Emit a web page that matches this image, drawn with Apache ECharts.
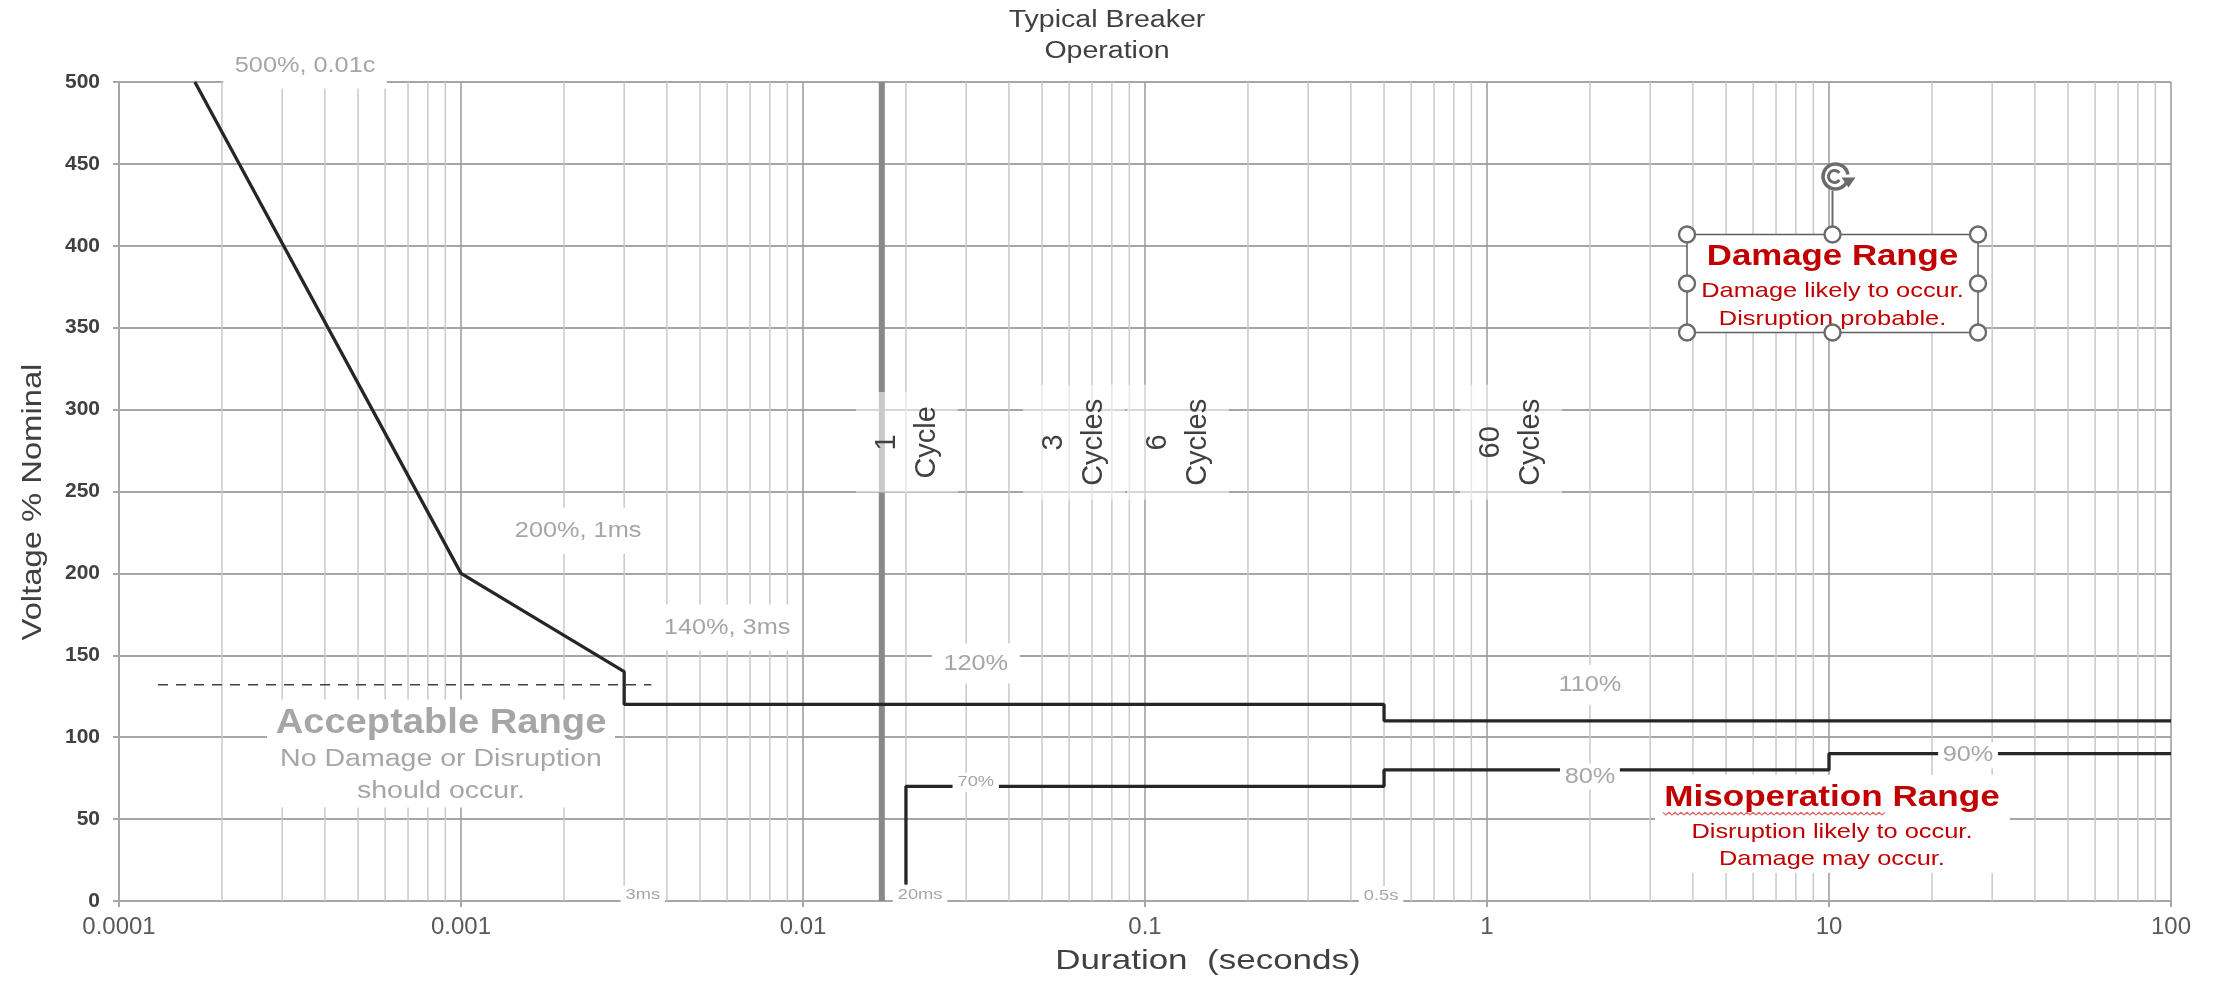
<!DOCTYPE html>
<html>
<head>
<meta charset="utf-8">
<script src="https://cdn.jsdelivr.net/npm/echarts@6/dist/echarts.min.js"></script>
<style>
html,body{margin:0;padding:0;background:#fff;}
#c{width:2219px;height:982px;}
</style>
</head>
<body>
<div id="c"></div>
<script>
// ---------------- data ----------------
const xTickLabels = ['0.0001', '0.001', '0.01', '0.1', '1', '10', '100'];
const yTickLabels = ['0', '50', '100', '150', '200', '250', '300', '350', '400', '450', '500'];

// Overvoltage boundary (duration s, % nominal)
const upperDuration = [1 / 6000, 0.001, 0.003, 0.003, 0.5, 0.5, 100];
const upperVoltage  = [500, 200, 140, 120, 120, 110, 110];

// Undervoltage boundary
const lowerDuration = [0.02, 0.02, 0.5, 0.5, 10, 10, 100];
const lowerVoltage  = [10, 70, 70, 80, 80, 90, 90];

// Dashed reference line
const dashDuration = [0.00013, 0.0036];
const dashVoltage  = [132, 132];

// Typical breaker operation markers
const cycleDuration = [0.017, 0.05, 0.1, 1];
const cycleLabels   = ['1\nCycle', '3\nCycles', '6\nCycles', '60\nCycles'];

// Value annotations
const noteTexts     = ['500%, 0.01c', '200%, 1ms', '140%, 3ms', '120%', '110%', '80%', '90%', '70%', '3ms', '20ms', '0.5s'];
const noteDurations = [0.00035, 0.0022, 0.006, 0.032, 2, 2, 25.5, 0.032, 0.0034, 0.022, 0.49];
const noteVoltages  = [510, 226, 167, 145, 132, 76, 89, 72.5, 3.5, 3.5, 3.3];

// ---------------- chart ----------------
const FONT = "'Liberation Sans', Arial, Helvetica, sans-serif";
const chart = echarts.init(document.getElementById('c'), null, {renderer: 'canvas'});

const zip = (a, b) => a.map((v, i) => [v, b[i]]);

// minor logarithmic grid lines (2..9 per decade)
const minorGrid = [];
for (let k = -4; k <= 1; k++) {
  for (let m = 2; m <= 9; m++) {
    const v = m * Math.pow(10, k);
    minorGrid.push([v, 0], [v, 500], ['-', '-']);
  }
}

const option = {
  animation: false,
  backgroundColor: '#ffffff',
  grid: {left: 119, right: 48, top: 82, bottom: 81, containLabel: false, outerBoundsMode: 'none'},
  xAxis: {
    type: 'log', logBase: 10, min: 0.0001, max: 100, splitNumber: 6,
    axisLine: {show: true, onZero: false, lineStyle: {color: '#a6a6a6', width: 2}},
    axisTick: {show: true, length: 6, lineStyle: {color: '#a6a6a6', width: 2}},
    axisLabel: {
      color: '#595959', fontSize: 24, fontFamily: FONT, margin: 14,
      formatter: v => xTickLabels[Math.round(Math.log10(v)) + 4]
    },
    splitLine: {show: true, lineStyle: {color: '#9a9a9a', width: 1.5}},
    minorTick: {show: false}, minorSplitLine: {show: false}
  },
  yAxis: {
    type: 'value', min: 0, max: 500, interval: 50,
    axisLine: {show: true, lineStyle: {color: '#a6a6a6', width: 2}},
    axisTick: {show: true, length: 6, lineStyle: {color: '#a6a6a6', width: 2}},
    axisLabel: {
      color: '#404040', fontSize: 21, fontWeight: 'bold', fontFamily: FONT, margin: 19,
      formatter: v => yTickLabels[Math.round(v / 50)]
    },
    splitLine: {show: true, lineStyle: {color: '#a6a6a6', width: 2}}
  },
  series: [
    {type: 'line', name: 'minor', data: minorGrid, symbol: 'none', silent: true, z: 1,
     connectNulls: false, lineStyle: {color: '#c9c9c9', width: 1.5}},
    {type: 'line', name: 'oneCycle', data: [[cycleDuration[0], 0], [cycleDuration[0], 500]],
     symbol: 'none', silent: true, z: 2, lineStyle: {color: '#888888', width: 6}},
    {type: 'line', name: 'dash', data: zip(dashDuration, dashVoltage), symbol: 'none', silent: true, z: 3,
     lineStyle: {color: '#404040', width: 1.5, type: [10, 8]}},
    {type: 'line', name: 'upper', data: zip(upperDuration, upperVoltage), symbol: 'none', silent: true, z: 4,
     lineStyle: {color: '#262626', width: 3.3}},
    {type: 'line', name: 'lower', data: zip(lowerDuration, lowerVoltage), symbol: 'none', silent: true, z: 4,
     lineStyle: {color: '#262626', width: 3.3}}
  ]
};
chart.setOption(option);

// ---------------- annotations ----------------
const P = (x, y) => chart.convertToPixel({gridIndex: 0}, [x, y]);
const G = [];
function T(x, y, text, o) {
  const st = {
    text: text, fill: o.color, fontSize: o.size, fontWeight: o.weight || 'normal',
    fontFamily: FONT, align: 'center', verticalAlign: 'middle'
  };
  if (o.bg) { st.backgroundColor = o.bg; st.padding = o.pad || [2, 4]; }
  if (o.lh) st.lineHeight = o.lh;
  G.push({type: 'text', x: x, y: y, z: o.z || 60, silent: true, scaleX: o.sx || 1,
          rotation: o.rot || 0, style: st});
}
function R(x, y, w, h, fill, stroke, lw, z) {
  G.push({type: 'rect', z: z || 55, silent: true, shape: {x: x, y: y, width: w, height: h},
          style: {fill: fill, stroke: stroke || null, lineWidth: lw || 0}});
}

// title & axis names
T(1107, 21, 'Typical Breaker', {size: 23, color: '#404040', sx: 1.24});
T(1107, 52, 'Operation', {size: 23, color: '#404040', sx: 1.24});
T(33, 502, 'Voltage % Nominal', {size: 28, color: '#404040', sx: 1.17, rot: Math.PI / 2});
T(1208, 961, 'Duration  (seconds)', {size: 28, color: '#404040', sx: 1.25});

// value labels
const GRAY = '#a6a6a6';
noteTexts.forEach((t, i) => {
  const p = P(noteDurations[i], noteVoltages[i]);
  const small = (t === '70%' || t === '3ms' || t === '20ms' || t === '0.5s');
  const tight = (t === '80%' || t === '90%');
  let pad = [12, 10];
  if (t === '110%' || t === '120%') pad = [9, 10];
  if (small || tight) pad = [2, 4];
  T(p[0], p[1], t, {size: small ? 15 : 22, color: GRAY, sx: small ? 1.22 : 1.15, bg: '#ffffff', pad: pad});
});

// cycle labels
const cycleDx = [25, 32, 33, 24];
cycleDuration.forEach((d, i) => {
  const p = P(d, 280);
  T(p[0] + cycleDx[i], p[1], cycleLabels[i], {size: 29, color: '#404040', rot: Math.PI / 2,
    lh: 40, bg: 'rgba(255,255,255,0.55)', pad: [11, 14], z: 58});
});

// Acceptable range block
(function () {
  const c = P(0.000874, 90);
  R(c[0] - 174, c[1] - 54, 348, 108, '#ffffff');
  T(c[0], c[1] - 30, 'Acceptable Range', {size: 35, weight: 'bold', color: GRAY, sx: 1.09});
  T(c[0], c[1] + 6, 'No Damage or Disruption', {size: 23, color: GRAY, sx: 1.24});
  T(c[0], c[1] + 38, 'should occur.', {size: 23, color: GRAY, sx: 1.24});
})();

const RED = '#c00000';
// Damage range block with selection handles
(function () {
  const c = P(10.24, 377);
  const w = 291, h = 98, x0 = c[0] - w / 2, y0 = c[1] - h / 2;
  R(x0, y0, w, h, '#ffffff', '#5f5f5f', 1.5);
  T(c[0], c[1] - 27, 'Damage Range', {size: 30, weight: 'bold', color: RED, sx: 1.16});
  T(c[0], c[1] + 8, 'Damage likely to occur.', {size: 21, color: RED, sx: 1.21});
  T(c[0], c[1] + 36, 'Disruption probable.', {size: 21, color: RED, sx: 1.21});
  // rotation handle stem
  G.push({type: 'line', z: 61, silent: true, shape: {x1: c[0], y1: y0 - 44, x2: c[0], y2: y0},
          style: {stroke: '#6b6b6b', lineWidth: 2}});
  // handles
  const hx = [x0, c[0], x0 + w], hy = [y0, c[1], y0 + h];
  hx.forEach((xx, i) => hy.forEach((yy, j) => {
    if (i === 1 && j === 1) return;
    G.push({type: 'circle', z: 62, silent: true, shape: {cx: xx, cy: yy, r: 8},
            style: {fill: '#ffffff', stroke: '#6b6b6b', lineWidth: 2.4}});
  }));
  // rotation icon
  const ix = c[0] + 3, iy = y0 - 58;
  G.push({type: 'circle', z: 61, silent: true, shape: {cx: ix, cy: iy, r: 13},
          style: {fill: '#ffffff'}});
  G.push({type: 'arc', z: 62, silent: true,
          shape: {cx: ix, cy: iy, r: 12.5, startAngle: 0.12 * Math.PI, endAngle: 1.95 * Math.PI, clockwise: true},
          style: {stroke: '#6b6b6b', lineWidth: 3.5, fill: null}});
  G.push({type: 'arc', z: 62, silent: true,
          shape: {cx: ix - 1, cy: iy, r: 6, startAngle: 0.2 * Math.PI, endAngle: 1.8 * Math.PI, clockwise: true},
          style: {stroke: '#6b6b6b', lineWidth: 3, fill: null}});
  G.push({type: 'polygon', z: 62, silent: true,
          shape: {points: [[ix + 6, iy + 1], [ix + 20, iy + 1], [ix + 13, iy + 11]]},
          style: {fill: '#6b6b6b'}});
})();

// Misoperation range block
(function () {
  const c = P(10.2, 47.2);
  R(c[0] - 177, c[1] - 49, 355, 98, '#ffffff');
  T(c[0], c[1] - 26, 'Misoperation Range', {size: 30, weight: 'bold', color: RED, sx: 1.17});
  T(c[0], c[1] + 9, 'Disruption likely to occur.', {size: 21, color: RED, sx: 1.21});
  T(c[0], c[1] + 36, 'Damage may occur.', {size: 21, color: RED, sx: 1.21});
  // spell-check squiggle under "Misoperation"
  const pts = [];
  let k = 0;
  for (let xx = c[0] - 169; xx <= c[0] + 53; xx += 3) {
    pts.push([xx, c[1] - 10 + (k % 2 === 0 ? -1.3 : 1.3)]);
    k++;
  }
  G.push({type: 'polyline', z: 61, silent: true, shape: {points: pts},
          style: {stroke: '#e06666', lineWidth: 1.2, fill: null}});
})();

chart.setOption({graphic: G});
</script>
</body>
</html>
